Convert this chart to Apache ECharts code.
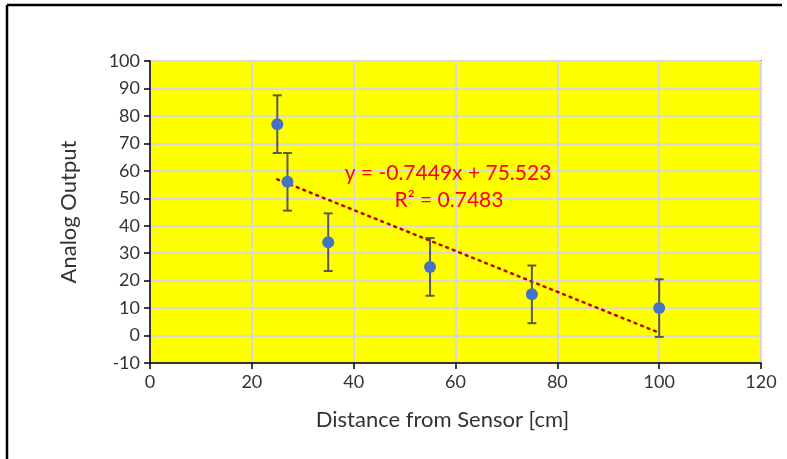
<!DOCTYPE html>
<html>
<head>
<meta charset="utf-8">
<script src="https://cdn.jsdelivr.net/npm/echarts@6/dist/echarts.min.js"></script>
<style>html,body{margin:0;padding:0;background:#fff}#c{width:787px;height:459px}</style>
</head>
<body>
<div id="c"></div>
<script>
var distances = [25, 27, 35, 55, 75, 100];
var outputs = [77, 56, 34, 25, 15, 10];
var errors = [10.5, 10.5, 10.5, 10.5, 10.5, 10.5];
var slope = -0.7449;
var intercept = 75.523;
var trendRange = [25, 100];
var xTicks = { min: 0, max: 120, interval: 20 };
var yTicks = { min: -10, max: 100, interval: 10 };
var eqText = 'y = -0.7449x + 75.523';
var r2Text = 'R² = 0.7483';
var xTitle = 'Distance from Sensor [cm]';
var yTitle = 'Analog Output';

var FONT = 'Lato';
var pts = distances.map(function (x, i) { return [x, outputs[i]]; });
var errData = distances.map(function (x, i) { return [x, outputs[i] - errors[i], outputs[i] + errors[i]]; });
var trend = trendRange.map(function (x) { return [x, slope * x + intercept]; });

var chart = echarts.init(document.getElementById('c'), null, { renderer: 'canvas' });
chart.setOption({
  animation: false,
  backgroundColor: '#fff',
  textStyle: { fontFamily: FONT },
  grid: { left: 150, top: 61, width: 611, height: 302, show: true, backgroundColor: '#ffff00', borderColor: '#000', borderWidth: 1.5 },
  xAxis: {
    type: 'value', min: xTicks.min, max: xTicks.max, interval: xTicks.interval,
    name: xTitle, nameLocation: 'middle', nameGap: 46,
    nameTextStyle: { fontFamily: FONT, fontSize: 22, color: '#333', padding: [0, 26, 0, 0] },
    axisLine: { onZero: false, lineStyle: { color: '#000', width: 1.5 } },
    axisTick: { show: true, length: 6, lineStyle: { color: '#000', width: 1.5 } },
    axisLabel: { fontFamily: FONT, fontSize: 18, color: '#333', margin: 10 },
    splitLine: { show: true, lineStyle: { color: '#d9d9d9', width: 2 } }
  },
  yAxis: {
    type: 'value', min: yTicks.min, max: yTicks.max, interval: yTicks.interval,
    name: yTitle, nameLocation: 'middle', nameGap: 70, nameRotate: 90,
    nameTextStyle: { fontFamily: FONT, fontSize: 22, color: '#333' },
    axisLine: { show: true, onZero: false, lineStyle: { color: '#000', width: 1.5 } },
    axisTick: { show: true, length: 6, lineStyle: { color: '#000', width: 1.5 } },
    axisLabel: { fontFamily: FONT, fontSize: 18, color: '#333', margin: 10 },
    splitLine: { show: true, lineStyle: { color: '#d9d9d9', width: 2 } }
  },
  graphic: [
    { type: 'line', shape: { x1: 7, y1: 5, x2: 782, y2: 5 }, style: { stroke: '#000', lineWidth: 2.5 } },
    { type: 'line', shape: { x1: 7, y1: 5, x2: 7, y2: 459 }, style: { stroke: '#000', lineWidth: 2.5 } },
    { type: 'text', z: 100, style: { text: eqText, x: 448, y: 173, textAlign: 'center', textVerticalAlign: 'middle', fill: '#ff0000', font: '21px ' + FONT } },
    { type: 'text', z: 100, style: { text: r2Text, x: 449, y: 200, textAlign: 'center', textVerticalAlign: 'middle', fill: '#ff0000', font: '21px ' + FONT } }
  ],
  series: [
    {
      type: 'line', data: trend, symbol: 'none', z: 3,
      lineStyle: { color: '#c00000', width: 2.5, type: [2, 5], cap: 'round' }
    },
    {
      type: 'custom', z: 4,
      data: errData,
      renderItem: function (params, api) {
        var x = api.value(0);
        var lo = api.coord([x, api.value(1)]);
        var hi = api.coord([x, api.value(2)]);
        var w = 4.5;
        var st = { stroke: '#595959', lineWidth: 2 };
        return { type: 'group', children: [
          { type: 'line', shape: { x1: lo[0], y1: lo[1], x2: hi[0], y2: hi[1] }, style: st },
          { type: 'line', shape: { x1: lo[0] - w, y1: lo[1], x2: lo[0] + w, y2: lo[1] }, style: st },
          { type: 'line', shape: { x1: hi[0] - w, y1: hi[1], x2: hi[0] + w, y2: hi[1] }, style: st }
        ] };
      }
    },
    {
      type: 'scatter', data: pts, symbol: 'circle', symbolSize: 12, z: 5,
      itemStyle: { color: '#4472c4', opacity: 1 }
    }
  ]
});
</script>
</body>
</html>
